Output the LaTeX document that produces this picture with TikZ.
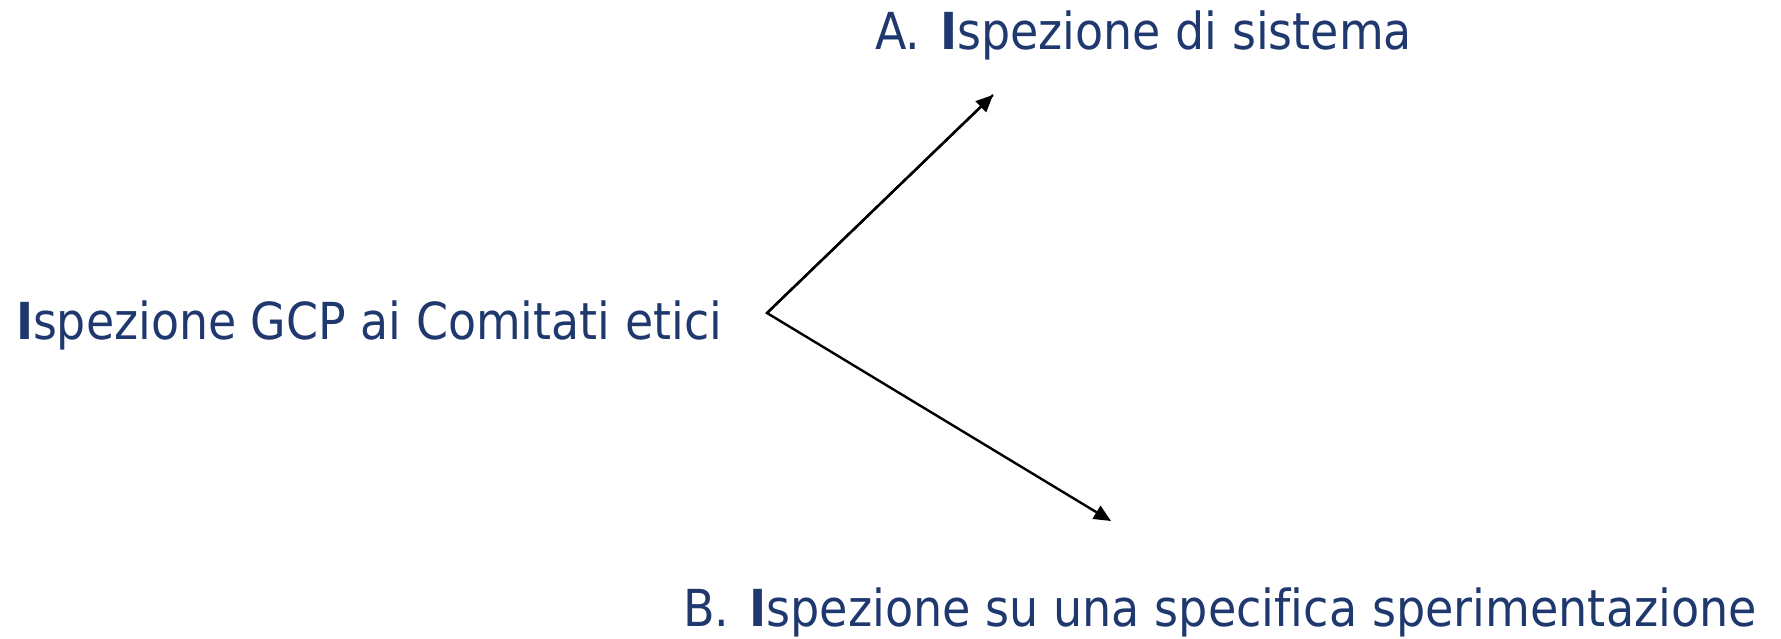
\documentclass[tikz,border=0pt]{standalone}
\usepackage{fontspec}
\setmainfont[Ligatures=NoCommon]{DejaVu Sans}
\usetikzlibrary{arrows.meta}
\definecolor{txtblue}{RGB}{31,56,110}
\newcommand\fitw[2]{\sbox0{#2}\pgfmathsetmacro\fitsc{#1/\wd0}\scalebox{\fitsc}[1]{\usebox0}}
\tikzset{
  lbl/.style={inner sep=0pt, outer sep=0pt, anchor=base west, text=txtblue, font=\fontsize{51}{60}\selectfont},
  arr/.style={line width=2.4pt, -{Triangle[length=17pt,width=15pt]}}
}
\begin{document}
\begin{tikzpicture}[x=1pt,y=-1pt]
\path[use as bounding box] (0,0) rectangle (1781,638);
\node[lbl] (src) at (16,339) {\fitw{706}{\textbf{I}spezione GCP ai Comitati etici}};
\node[lbl] (A) at (875,49) {\fitw{537}{A.\ \kern6pt\textbf{I}spezione di sistema}};
\node[lbl] (B) at (683,626) {\fitw{1074}{B.\ \kern6pt\textbf{I}spezione su una specifica sperimentazione}};
\coordinate (o) at (767,313);
\coordinate (tA) at (993,95);
\coordinate (tB) at (1111,521);
\draw[arr, line join=miter] (tA) -- (o) -- (tB);
\draw[arr] (o) -- (tA);
\end{tikzpicture}
\end{document}
